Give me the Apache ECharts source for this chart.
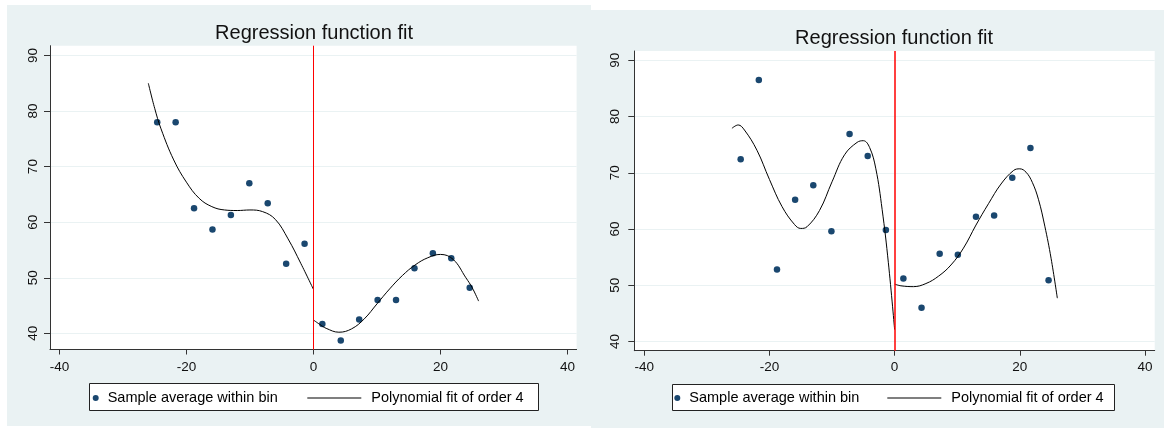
<!DOCTYPE html>
<html>
<head>
  <meta charset="utf-8">
  <script src="https://cdn.jsdelivr.net/npm/echarts@6/dist/echarts.min.js"></script>
  <style>html, body { margin: 0; padding: 0; background: #fff; }</style>
</head>
<body>
<div id="main" style="width:1164px;height:428px;"></div>
<script type="text/javascript">
// bin centres (running variable), same for both panels
var binX = [-24.6, -21.7, -18.8, -15.9, -13.0, -10.1, -7.2, -4.3, -1.4,
            1.4, 4.3, 7.2, 10.1, 13.0, 15.9, 18.8, 21.7, 24.6];
var sampleLeft  = [78.0, 78.0, 62.5, 58.7, 61.3, 67.0, 63.4, 52.5, 56.1,
                   41.7, 38.7, 42.5, 46.0, 46.0, 51.7, 54.4, 53.5, 48.2];
var sampleRight = [72.4, 86.5, 52.8, 65.2, 67.8, 59.6, 76.9, 73.0, 59.8,
                   51.2, 46.0, 55.6, 55.4, 62.2, 62.4, 69.1, 74.4, 50.9];

// fitted curve
var fitL_belowX = [-26, -25, -24, -22, -20, -18, -16, -14, -12, -10, -8, -6, -4, -2, 0];
var fitL_belowY = [85.0, 80.5, 76.8, 71.2, 67.2, 64.3, 62.8, 62.2, 62.1, 62.2, 61.9, 60.5, 57.0, 52.6, 47.9];
var fitL_aboveX = [0, 1, 2, 4, 6, 8, 10, 12, 14, 16, 18, 20, 22, 24, 25, 26];
var fitL_aboveY = [42.4, 41.6, 40.9, 40.2, 40.8, 42.6, 45.3, 48.0, 50.4, 52.3, 53.6, 54.2, 53.3, 50.0, 48.2, 45.8];

var fitR_belowX = [-26, -25, -24, -22, -20, -18, -16, -15, -14, -12, -10, -8, -6, -5, -4, -3, -2, -1, 0];
var fitR_belowY = [77.9, 78.5, 77.6, 74.0, 68.8, 64.0, 60.8, 60.1, 60.4, 63.3, 68.4, 73.2, 75.4, 75.7, 74.5, 70.7, 63.5, 54.0, 42.1];
var fitR_aboveX = [0, 1, 3, 5, 7, 9, 11, 13, 15, 17, 19, 20, 21, 22, 23, 24, 25, 26];
var fitR_aboveY = [50.2, 49.9, 49.75, 50.3, 51.6, 53.6, 56.6, 60.7, 64.5, 68.0, 70.4, 70.7, 70.1, 68.3, 65.2, 60.5, 54.8, 47.7];

var xTicks = [-40, -20, 0, 20, 40];
var yTicks = [40, 50, 60, 70, 80, 90];

var cutoff = 0;
var dotName = 'Sample average within bin';
var fitName = 'Polynomial fit of order 4';

var FONT = 'Liberation Sans, Arial, Helvetica, sans-serif';
var BG = '#eaf2f3';
var AXIS = '#333';

function zip(xs, ys) {
    var res = [];
    for (var i = 0; i < xs.length; i++) res.push([xs[i], ys[i]]);
    return res;
}

function xAxisFor(gi, min, max, margin) {
    return {
        type: 'value', gridIndex: gi, min: min, max: max,
        axisLine: { show: true, onZero: false, lineStyle: { color: AXIS, width: 1 } },
        axisTick: { show: true, length: 5, customValues: xTicks, lineStyle: { color: AXIS } },
        axisLabel: { customValues: xTicks, margin: margin, color: '#111', fontSize: 13.5, fontFamily: FONT },
        splitLine: { show: false }
    };
}
function yAxisFor(gi, min, max, margin) {
    return {
        type: 'value', gridIndex: gi, min: min, max: max,
        axisLine: { show: true, onZero: false, lineStyle: { color: AXIS, width: 1 } },
        axisTick: { show: true, length: 6, customValues: yTicks, lineStyle: { color: AXIS } },
        axisLabel: { customValues: yTicks, rotate: 90, margin: margin, color: '#111', fontSize: 13.5, fontFamily: FONT },
        splitLine: { show: true, lineStyle: { color: BG, width: 1 } }
    };
}

function dots(gi, ys, redWidth) {
    return {
        name: dotName, type: 'scatter', xAxisIndex: gi, yAxisIndex: gi,
        data: zip(binX, ys), symbol: 'circle', symbolSize: 6.5,
        itemStyle: { color: '#1a476f', opacity: 1 }, z: 3,
        markLine: {
            silent: true, symbol: 'none', label: { show: false },
            lineStyle: { color: '#ff0000', width: redWidth, type: 'solid', opacity: 1 },
            data: [{ xAxis: cutoff }]
        }
    };
}
function fit(gi, xs, ys) {
    return {
        name: fitName, type: 'line', xAxisIndex: gi, yAxisIndex: gi,
        data: zip(xs, ys), symbol: 'none', smooth: 0.4,
        lineStyle: { color: '#000', width: 1 }, itemStyle: { color: '#000' }, z: 4
    };
}

function legendsFor(dotLeft, fitLeft, top) {
    var txt = { color: '#000', fontSize: 14.5, fontFamily: FONT };
    return [
        { data: [{ name: dotName, icon: 'circle', itemStyle: { color: '#1a476f', opacity: 1 } }],
          left: dotLeft, top: top, padding: 0,
          itemWidth: 10, itemHeight: 6, selectedMode: false,
          textStyle: Object.assign({ padding: [0, 0, 0, 2] }, txt) },
        { data: [{ name: fitName, icon: 'rect', itemStyle: { color: '#000' } }],
          left: fitLeft, top: top, padding: 0,
          itemWidth: 54, itemHeight: 1, selectedMode: false,
          textStyle: Object.assign({ padding: [0, 0, 0, 5] }, txt) }
    ];
}

var myChart = echarts.init(document.getElementById('main'));

myChart.setOption({
    backgroundColor: '#fff',
    animation: false,
    graphic: [
        { type: 'rect', z: -10, shape: { x: 7, y: 5, width: 584, height: 421 }, style: { fill: BG } },
        { type: 'rect', z: -10, shape: { x: 591, y: 10, width: 573, height: 418 }, style: { fill: BG } },
        { type: 'rect', z: 1, shape: { x: 89.5, y: 383.5, width: 449, height: 27 },
          style: { fill: '#fff', stroke: '#222', lineWidth: 1 } },
        { type: 'rect', z: 1, shape: { x: 672.5, y: 384.5, width: 442, height: 26 },
          style: { fill: '#fff', stroke: '#222', lineWidth: 1 } }
    ],
    title: [
        { text: 'Regression function fit', left: 314, top: 33, padding: 0,
          textAlign: 'center', textVerticalAlign: 'middle',
          textStyle: { fontSize: 20, fontWeight: 'normal', color: '#111', fontFamily: FONT } },
        { text: 'Regression function fit', left: 894, top: 38, padding: 0,
          textAlign: 'center', textVerticalAlign: 'middle',
          textStyle: { fontSize: 20, fontWeight: 'normal', color: '#111', fontFamily: FONT } }
    ],
    legend: legendsFor(92.7, 307.3, 390.5).concat(legendsFor(674.3, 887.3, 390.5)),
    grid: [
        { left: 50, top: 45.7, width: 526.6, height: 303.8, show: true, backgroundColor: '#fff', borderWidth: 0 },
        { left: 634.3, top: 51, width: 520.4, height: 299.7, show: true, backgroundColor: '#fff', borderWidth: 0 }
    ],
    xAxis: [xAxisFor(0, -41.48, 41.43, 11), xAxisFor(1, -41.6, 41.56, 10)],
    yAxis: [yAxisFor(0, 37.09, 91.76, 10), yAxisFor(1, 38.36, 91.65, 12)],
    series: [
        dots(0, sampleLeft, 1),
        fit(0, fitL_belowX, fitL_belowY),
        fit(0, fitL_aboveX, fitL_aboveY),
        dots(1, sampleRight, 1.5),
        fit(1, fitR_belowX, fitR_belowY),
        fit(1, fitR_aboveX, fitR_aboveY)
    ]
});
</script>
</body>
</html>
